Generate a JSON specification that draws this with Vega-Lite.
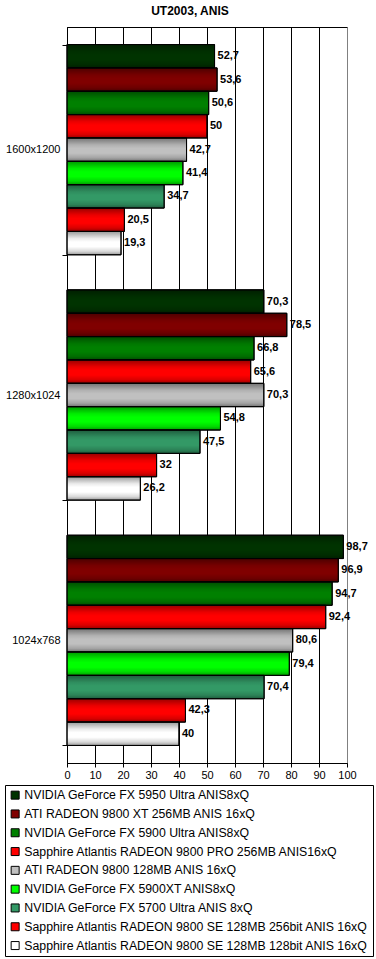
{
  "$schema": "https://vega.github.io/schema/vega-lite/v6.json",
  "width": 280,
  "height": 736,
  "autosize": {"type": "none"},
  "padding": {"left": 67, "top": 27, "right": 29, "bottom": 196},
  "background": "white",
  "title": {"text": "UT2003, ANIS", "fontSize": 12, "fontWeight": "bold", "font": "Liberation Sans", "anchor": "middle", "dx": -17, "offset": 3, "color": "black"},
  "config": {
    "locale": {"number": {"decimal": ",", "thousands": " ", "grouping": [3], "currency": ["", ""]}},
    "view": {"stroke": "black", "strokeWidth": 1},
    "font": "Liberation Sans"
  },
  "data": {"values": [
    {"res": "1600x1200", "card": "NVIDIA GeForce FX 5950 Ultra ANIS8xQ", "fps": 52.7},
    {"res": "1600x1200", "card": "ATI RADEON 9800 XT 256MB ANIS 16xQ", "fps": 53.6},
    {"res": "1600x1200", "card": "NVIDIA GeForce FX 5900 Ultra ANIS8xQ", "fps": 50.6},
    {"res": "1600x1200", "card": "Sapphire Atlantis RADEON 9800 PRO 256MB ANIS16xQ", "fps": 50},
    {"res": "1600x1200", "card": "ATI RADEON 9800 128MB ANIS 16xQ", "fps": 42.7},
    {"res": "1600x1200", "card": "NVIDIA GeForce FX 5900XT ANIS8xQ", "fps": 41.4},
    {"res": "1600x1200", "card": "NVIDIA GeForce FX 5700 Ultra ANIS 8xQ", "fps": 34.7},
    {"res": "1600x1200", "card": "Sapphire Atlantis RADEON 9800 SE 128MB 256bit ANIS 16xQ", "fps": 20.5},
    {"res": "1600x1200", "card": "Sapphire Atlantis RADEON 9800 SE 128MB 128bit ANIS 16xQ", "fps": 19.3},
    {"res": "1280x1024", "card": "NVIDIA GeForce FX 5950 Ultra ANIS8xQ", "fps": 70.3},
    {"res": "1280x1024", "card": "ATI RADEON 9800 XT 256MB ANIS 16xQ", "fps": 78.5},
    {"res": "1280x1024", "card": "NVIDIA GeForce FX 5900 Ultra ANIS8xQ", "fps": 66.8},
    {"res": "1280x1024", "card": "Sapphire Atlantis RADEON 9800 PRO 256MB ANIS16xQ", "fps": 65.6},
    {"res": "1280x1024", "card": "ATI RADEON 9800 128MB ANIS 16xQ", "fps": 70.3},
    {"res": "1280x1024", "card": "NVIDIA GeForce FX 5900XT ANIS8xQ", "fps": 54.8},
    {"res": "1280x1024", "card": "NVIDIA GeForce FX 5700 Ultra ANIS 8xQ", "fps": 47.5},
    {"res": "1280x1024", "card": "Sapphire Atlantis RADEON 9800 SE 128MB 256bit ANIS 16xQ", "fps": 32},
    {"res": "1280x1024", "card": "Sapphire Atlantis RADEON 9800 SE 128MB 128bit ANIS 16xQ", "fps": 26.2},
    {"res": "1024x768", "card": "NVIDIA GeForce FX 5950 Ultra ANIS8xQ", "fps": 98.7},
    {"res": "1024x768", "card": "ATI RADEON 9800 XT 256MB ANIS 16xQ", "fps": 96.9},
    {"res": "1024x768", "card": "NVIDIA GeForce FX 5900 Ultra ANIS8xQ", "fps": 94.7},
    {"res": "1024x768", "card": "Sapphire Atlantis RADEON 9800 PRO 256MB ANIS16xQ", "fps": 92.4},
    {"res": "1024x768", "card": "ATI RADEON 9800 128MB ANIS 16xQ", "fps": 80.6},
    {"res": "1024x768", "card": "NVIDIA GeForce FX 5900XT ANIS8xQ", "fps": 79.4},
    {"res": "1024x768", "card": "NVIDIA GeForce FX 5700 Ultra ANIS 8xQ", "fps": 70.4},
    {"res": "1024x768", "card": "Sapphire Atlantis RADEON 9800 SE 128MB 256bit ANIS 16xQ", "fps": 42.3},
    {"res": "1024x768", "card": "Sapphire Atlantis RADEON 9800 SE 128MB 128bit ANIS 16xQ", "fps": 40}
  ]},
  "encoding": {
    "y": {
      "field": "res", "type": "nominal",
      "sort": ["1600x1200", "1280x1024", "1024x768"],
      "scale": {"paddingInner": 0.143, "paddingOuter": 0.0715},
      "axis": {"title": null, "tickBand": "extent", "tickSize": 5, "tickColor": "black", "domainColor": "black", "labelFontSize": 11, "labelColor": "black", "labelPadding": 2, "grid": false}
    },
    "yOffset": {
      "field": "card", "type": "nominal",
      "sort": [
        "NVIDIA GeForce FX 5950 Ultra ANIS8xQ",
        "ATI RADEON 9800 XT 256MB ANIS 16xQ",
        "NVIDIA GeForce FX 5900 Ultra ANIS8xQ",
        "Sapphire Atlantis RADEON 9800 PRO 256MB ANIS16xQ",
        "ATI RADEON 9800 128MB ANIS 16xQ",
        "NVIDIA GeForce FX 5900XT ANIS8xQ",
        "NVIDIA GeForce FX 5700 Ultra ANIS 8xQ",
        "Sapphire Atlantis RADEON 9800 SE 128MB 256bit ANIS 16xQ",
        "Sapphire Atlantis RADEON 9800 SE 128MB 128bit ANIS 16xQ"
      ],
      "scale": {"paddingInner": 0, "paddingOuter": 0}
    },
    "x": {
      "field": "fps", "type": "quantitative",
      "scale": {"domain": [0, 100], "nice": false},
      "axis": {
        "title": null, "values": [0, 10, 20, 30, 40, 50, 60, 70, 80, 90, 100],
        "tickSize": 4, "tickColor": "black", "domainColor": "black",
        "grid": true,
        "gridColor": {"condition": {"test": "datum.value === 100", "value": "#808080"}, "value": "black"},
        "gridOpacity": 1,
        "labelFontSize": 11, "labelColor": "black", "labelPadding": 2, "labelFlush": false
      }
    }
  },
  "layer": [
    {
      "mark": {"type": "bar", "stroke": "black", "strokeWidth": 1},
      "encoding": {
        "color": {
          "field": "card", "type": "nominal",
          "scale": {
            "domain": [
              "NVIDIA GeForce FX 5950 Ultra ANIS8xQ",
              "ATI RADEON 9800 XT 256MB ANIS 16xQ",
              "NVIDIA GeForce FX 5900 Ultra ANIS8xQ",
              "Sapphire Atlantis RADEON 9800 PRO 256MB ANIS16xQ",
              "ATI RADEON 9800 128MB ANIS 16xQ",
              "NVIDIA GeForce FX 5900XT ANIS8xQ",
              "NVIDIA GeForce FX 5700 Ultra ANIS 8xQ",
              "Sapphire Atlantis RADEON 9800 SE 128MB 256bit ANIS 16xQ",
              "Sapphire Atlantis RADEON 9800 SE 128MB 128bit ANIS 16xQ"
            ],
            "range": ["#003300", "#800000", "#008000", "#ff0000", "#c0c0c0", "#00ff00", "#339966", "#ff0000", "#ffffff"]
          },
          "legend": {
            "orient": "none", "legendX": -62, "legendY": 758, "title": null,
            "strokeColor": "black", "fillColor": "white", "padding": 4,
            "symbolType": "square", "symbolSize": 64, "symbolStrokeColor": "black", "symbolStrokeWidth": 1,
            "labelFontSize": 12.3, "labelColor": "black", "labelLimit": 400, "rowPadding": 5.8, "labelOffset": 3
          }
        }
      }
    },
    {
      "mark": {
        "type": "bar",
        "fill": {
          "gradient": "linear", "x1": 0, "y1": 0, "x2": 0, "y2": 1,
          "stops": [
            {"offset": 0, "color": "rgba(0,0,0,0.4)"},
            {"offset": 0.3, "color": "rgba(0,0,0,0.08)"},
            {"offset": 0.45, "color": "rgba(0,0,0,0)"},
            {"offset": 0.65, "color": "rgba(0,0,0,0)"},
            {"offset": 0.85, "color": "rgba(0,0,0,0.15)"},
            {"offset": 1, "color": "rgba(0,0,0,0.4)"}
          ]
        },
        "stroke": "black", "strokeWidth": 1
      },
      "encoding": {}
    },
    {
      "mark": {"type": "text", "align": "left", "baseline": "middle", "dx": 3, "fontSize": 11, "fontWeight": "bold", "color": "black"},
      "encoding": {
        "text": {"field": "fps", "type": "quantitative", "format": ".3~r"}
      }
    }
  ]
}
